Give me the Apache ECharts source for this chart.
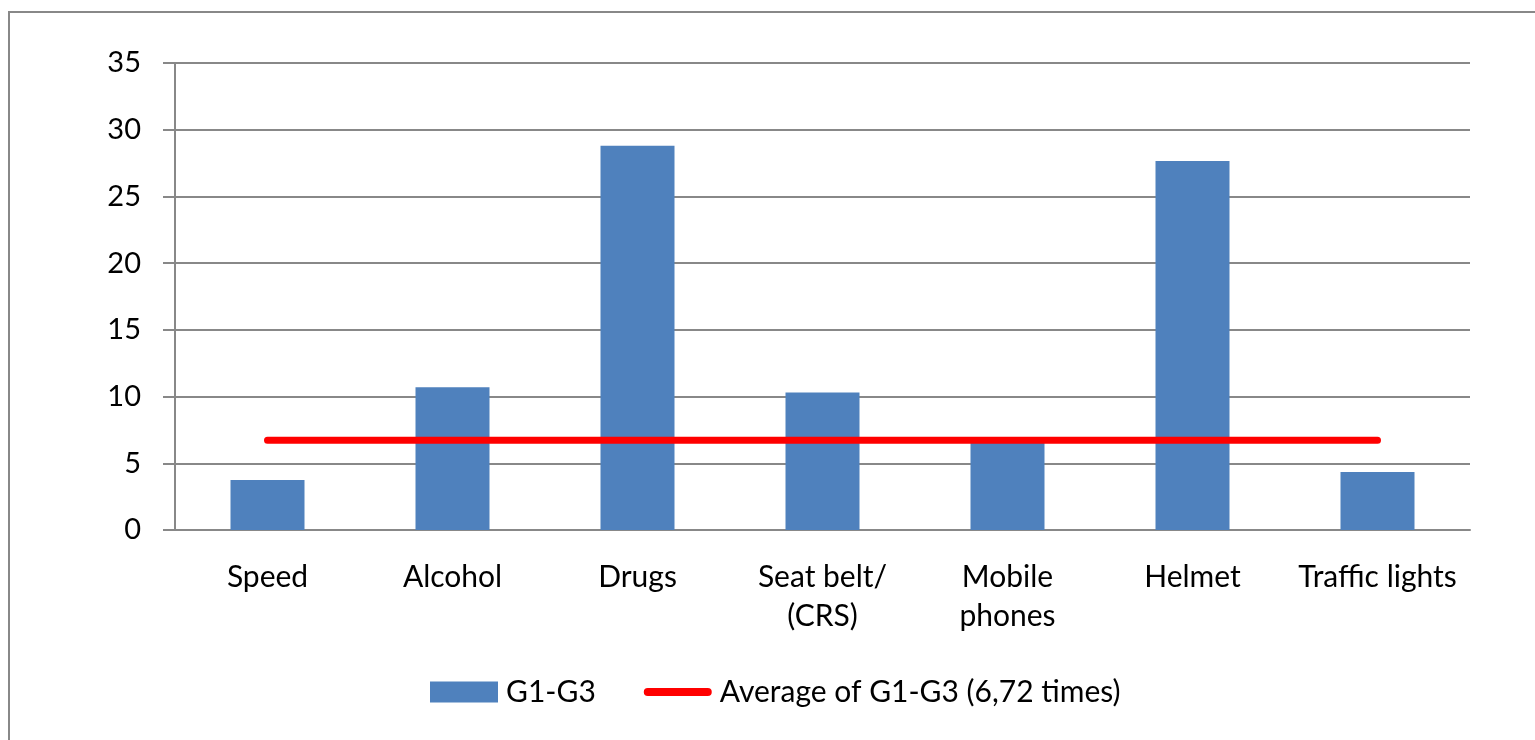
<!DOCTYPE html>
<html>
<head>
<meta charset="utf-8">
<script src="https://cdn.jsdelivr.net/npm/echarts@6/dist/echarts.min.js"></script>
<style>
  html, body { margin: 0; padding: 0; background: #fff; }
  #chart { width: 1535px; height: 740px; }
</style>
</head>
<body>
<div id="chart"></div>
<script>
var categories = ['Speed', 'Alcohol', 'Drugs', 'Seat belt/\n(CRS)', 'Mobile\nphones', 'Helmet', 'Traffic lights'];
var g1g3 = [3.75, 10.7, 28.8, 10.3, 6.55, 27.65, 4.35];
var averageValue = 6.72;
var averageLine = categories.map(function () { return averageValue; });

var chartDom = document.getElementById('chart');
var myChart = echarts.init(chartDom);
var font = 'Lato, "Open Sans", sans-serif';

var option = {
  animation: false,
  textStyle: { fontFamily: font },
  graphic: [
    {
      type: 'rect',
      shape: { x: 9, y: 12, width: 1540, height: 740 },
      style: { fill: 'none', stroke: '#888', lineWidth: 2 },
      silent: true
    }
  ],
  grid: { left: 175, right: 65, top: 63, bottom: 210 },
  legend: {
    top: 672,
    left: 425,
    itemWidth: 68,
    itemHeight: 21,
    itemGap: 48,
    textStyle: { fontSize: 30, color: '#000', fontFamily: font, padding: [0, 0, 0, 3] },
    data: [
      { name: 'G1-G3', icon: 'rect' },
      {
        name: 'Average of G1-G3 (6,72 times)',
        icon: 'path://M4,0 L64,0 A4,4 0 0 1 64,8 L4,8 A4,4 0 0 1 4,0 Z'
      }
    ]
  },
  xAxis: {
    type: 'category',
    data: categories,
    axisLine: { lineStyle: { color: '#888', width: 2 } },
    axisTick: { length: 11, lineStyle: { color: '#888', width: 2 } },
    axisLabel: { color: '#000', fontSize: 30, lineHeight: 39, margin: 28, interval: 0 }
  },
  yAxis: {
    type: 'value',
    min: 0,
    max: 35,
    interval: 5,
    axisLine: { show: true, lineStyle: { color: '#888', width: 2 } },
    axisTick: { show: true, length: 12, lineStyle: { color: '#888', width: 2 } },
    axisLabel: { color: '#000', fontSize: 29, margin: 34 },
    splitLine: { lineStyle: { color: '#888', width: 2 } }
  },
  series: [
    {
      name: 'G1-G3',
      type: 'bar',
      data: g1g3,
      barWidth: '40%',
      itemStyle: { color: '#4f81bd' }
    },
    {
      name: 'Average of G1-G3 (6,72 times)',
      type: 'line',
      data: averageLine,
      symbol: 'none',
      lineStyle: { color: '#ff0000', width: 7, cap: 'round' },
      itemStyle: { color: '#ff0000' }
    }
  ]
};

myChart.setOption(option);
</script>
</body>
</html>
